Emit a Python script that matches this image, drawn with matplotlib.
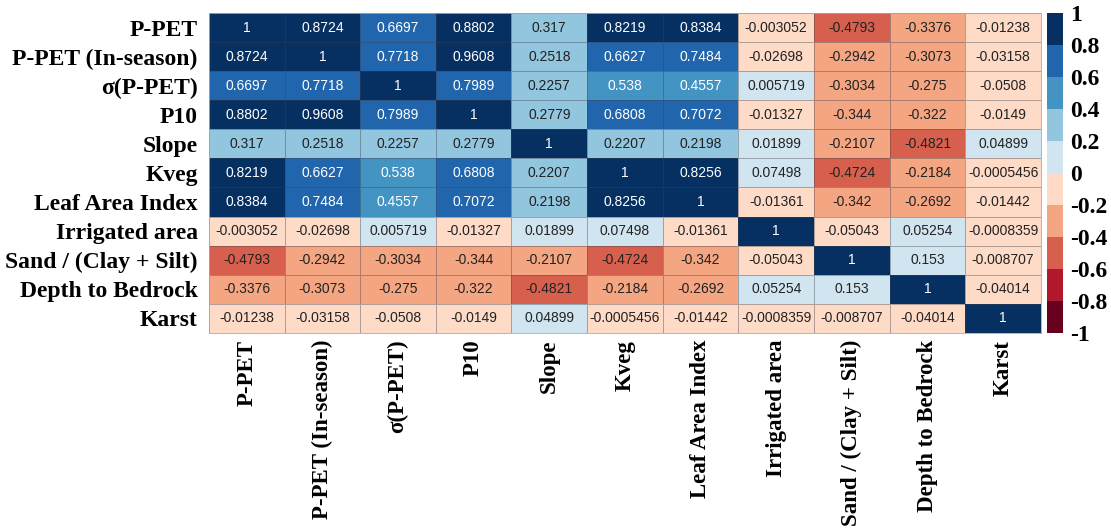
import numpy as np
import matplotlib
matplotlib.use('Agg')
import matplotlib.pyplot as plt
from matplotlib.colors import ListedColormap, BoundaryNorm

labels = ['P-PET', 'P-PET (In-season)', 'σ(P-PET)', 'P10', 'Slope', 'Kveg',
          'Leaf Area Index', 'Irrigated area', 'Sand / (Clay + Silt)',
          'Depth to Bedrock', 'Karst']

r_ppet = [1, 0.8724, 0.6697, 0.8802, 0.317, 0.8219, 0.8384, -0.003052, -0.4793, -0.3376, -0.01238]
r_inseason = [0.8724, 1, 0.7718, 0.9608, 0.2518, 0.6627, 0.7484, -0.02698, -0.2942, -0.3073, -0.03158]
r_sigma = [0.6697, 0.7718, 1, 0.7989, 0.2257, 0.538, 0.4557, 0.005719, -0.3034, -0.275, -0.0508]
r_p10 = [0.8802, 0.9608, 0.7989, 1, 0.2779, 0.6808, 0.7072, -0.01327, -0.344, -0.322, -0.0149]
r_slope = [0.317, 0.2518, 0.2257, 0.2779, 1, 0.2207, 0.2198, 0.01899, -0.2107, -0.4821, 0.04899]
r_kveg = [0.8219, 0.6627, 0.538, 0.6808, 0.2207, 1, 0.8256, 0.07498, -0.4724, -0.2184, -0.0005456]
r_lai = [0.8384, 0.7484, 0.4557, 0.7072, 0.2198, 0.8256, 1, -0.01361, -0.342, -0.2692, -0.01442]
r_irr = [-0.003052, -0.02698, 0.005719, -0.01327, 0.01899, 0.07498, -0.01361, 1, -0.05043, 0.05254, -0.0008359]
r_sand = [-0.4793, -0.2942, -0.3034, -0.344, -0.2107, -0.4724, -0.342, -0.05043, 1, 0.153, -0.008707]
r_depth = [-0.3376, -0.3073, -0.275, -0.322, -0.4821, -0.2184, -0.2692, 0.05254, 0.153, 1, -0.04014]
r_karst = [-0.01238, -0.03158, -0.0508, -0.0149, 0.04899, -0.0005456, -0.01442, -0.0008359, -0.008707, -0.04014, 1]

corr = np.array([r_ppet, r_inseason, r_sigma, r_p10, r_slope, r_kveg, r_lai,
                 r_irr, r_sand, r_depth, r_karst])

# 10-class RdBu (ColorBrewer)
colors = ['#67001f', '#b2182b', '#d6604d', '#f4a582', '#fddbc7',
          '#d1e5f0', '#92c5de', '#4393c3', '#2166ac', '#053061']
bounds = np.linspace(-1, 1, 11)
cmap = ListedColormap(colors)
norm = BoundaryNorm(bounds, cmap.N)

serif = ['Liberation Serif', 'DejaVu Serif']
fig = plt.figure(figsize=(11.11, 5.3), dpi=100)
ax = fig.add_axes([0.188, 0.372, 0.749, 0.6035])
cax = fig.add_axes([0.9424, 0.372, 0.0144, 0.6035])

n = len(labels)
mesh = ax.pcolormesh(np.arange(n + 1), np.arange(n + 1), corr, cmap=cmap, norm=norm,
                     edgecolors=(0.25, 0.25, 0.3, 0.4), linewidth=0.6)
ax.set_xlim(0, n)
ax.set_ylim(n, 0)

for i in range(n):
    for j in range(n):
        v = corr[i, j]
        ax.text(j + 0.5, i + 0.5, '%.4g' % v, ha='center', va='center',
                fontsize=10, family='Liberation Sans',
                color='white' if v > 0.4 else '#222222')

ax.set_xticks(np.arange(n) + 0.5)
ax.set_yticks(np.arange(n) + 0.5)
ax.set_xticklabels(labels, rotation=90, family=serif, fontweight='bold', fontsize=16.5)
ax.set_yticklabels(labels, family=serif, fontweight='bold', fontsize=17)
ax.tick_params(axis='y', length=0, pad=8)
ax.tick_params(axis='x', length=0, pad=5)
for s in ax.spines.values():
    s.set_color('#aaaaaa')
    s.set_linewidth(0.6)

cb = fig.colorbar(mesh, cax=cax, ticks=bounds)
cb.ax.set_yticklabels(['%g' % b for b in bounds])
for t in cb.ax.get_yticklabels():
    t.set_family(serif)
    t.set_fontweight('bold')
    t.set_fontsize(17)
cb.ax.tick_params(length=0, pad=5)
cb.outline.set_visible(False)

fig.savefig('out.png', dpi=100)
